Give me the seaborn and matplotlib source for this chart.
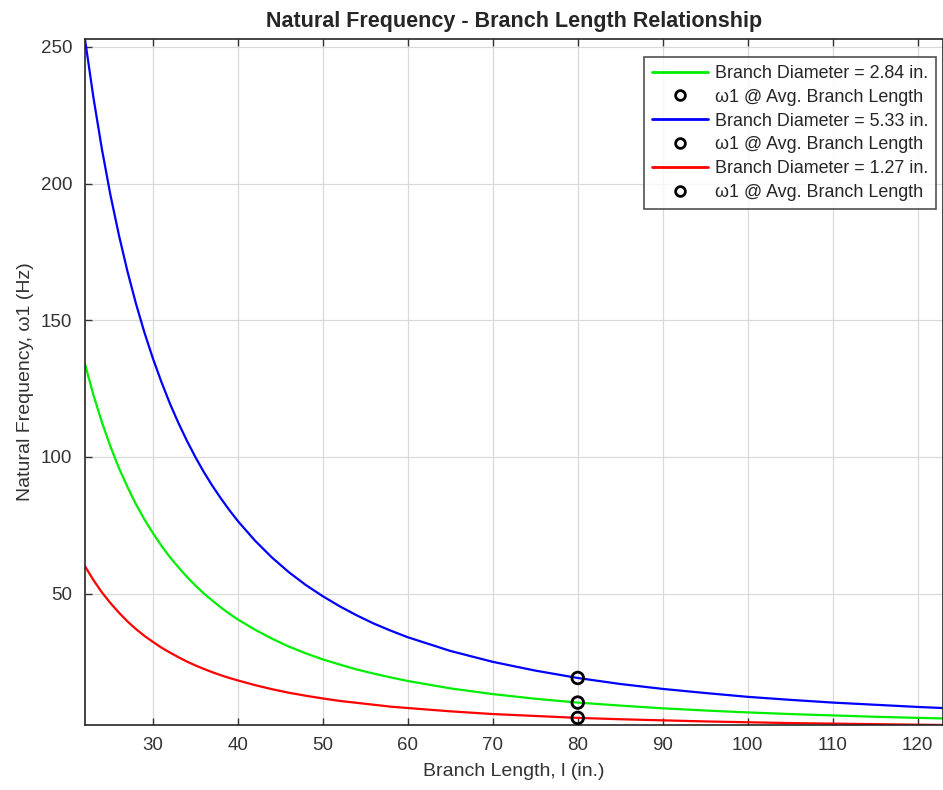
import matplotlib.pyplot as plt
import numpy as np
import pandas as pd
import seaborn as sns
from matplotlib.lines import Line2D

# values
length = [22, 23, 24, 25, 26, 27, 28, 29, 30, 31, 32, 33, 34, 35, 36, 37, 38, 39, 40,
          42, 44, 46, 48, 50, 52, 54, 56, 58, 60,
          65, 70, 75, 80, 85, 90, 95, 100, 105, 110, 115, 120, 123]
freq_284 = [134.0, 122.6, 112.6, 103.8, 95.9, 89.0, 82.7, 77.1, 72.1, 67.5, 63.3,
            59.6, 56.1, 52.9, 50.0, 47.4, 44.9, 42.6, 40.5,
            36.8, 33.5, 30.6, 28.1, 25.9, 24.0, 22.2, 20.7, 19.3, 18.0,
            15.3, 13.2, 11.5, 10.1, 9.0, 8.0, 7.2, 6.5, 5.9, 5.4, 4.9, 4.5, 4.3]
freq_533 = [252.9, 231.4, 212.5, 195.8, 181.1, 167.9, 156.1, 145.5, 136.0, 127.4,
            119.5, 112.4, 105.9, 99.9, 94.4, 89.4, 84.8, 80.5, 76.5,
            69.4, 63.2, 57.8, 53.1, 49.0, 45.3, 42.0, 39.0, 36.4, 34.0,
            29.0, 25.0, 21.8, 19.1, 16.9, 15.1, 13.6, 12.2, 11.1, 10.1, 9.3, 8.5, 8.1]
freq_127 = [60.0, 54.9, 50.4, 46.5, 43.0, 39.8, 37.0, 34.5, 32.3, 30.2, 28.4,
            26.7, 25.1, 23.7, 22.4, 21.2, 20.1, 19.1, 18.2,
            16.5, 15.0, 13.7, 12.6, 11.6, 10.7, 10.0, 9.3, 8.6, 8.1,
            6.9, 5.9, 5.2, 4.5, 4.0, 3.6, 3.2, 2.9, 2.6, 2.4, 2.2, 2.0, 1.9]
avg_length = 80
avg_freq = [10.1, 19.1, 4.5]
diameters = ["2.84", "5.33", "1.27"]
colors = ["#00ee00", "#0000ff", "#ff0000"]

sns.set_theme(style="white")
plt.rcParams.update({
    "font.family": ["Liberation Sans", "DejaVu Sans"],
    "axes.edgecolor": "#262626",
    "xtick.color": "#333333",
    "ytick.color": "#333333",
})

fig = plt.figure(figsize=(9.43, 7.9), dpi=100)
ax = fig.add_axes([0.0901, 0.0823, 0.91, 0.8683])

handles = []
labels = []
for series, d, c, f in zip([freq_284, freq_533, freq_127], diameters, colors, avg_freq):
    df = pd.DataFrame({"L": length, "w": series})
    sns.lineplot(data=df, x="L", y="w", color=c, linewidth=1.6, ax=ax)
    pt = pd.DataFrame({"L": [avg_length], "w": [f]})
    sns.scatterplot(data=pt, x="L", y="w", marker="o", s=70, facecolors="none",
                    edgecolor="black", linewidth=2, ax=ax, zorder=5)
    handles.append(Line2D([], [], color=c, linewidth=2))
    labels.append(f"Branch Diameter = {d} in.")
    handles.append(Line2D([], [], linestyle="", marker="o", markersize=7,
                          markerfacecolor="none", markeredgecolor="black", markeredgewidth=2))
    labels.append("ω1 @ Avg. Branch Length")

ax.set_xlim(min(length), max(length))
ax.set_ylim(min(freq_127), max(freq_533))
ax.set_xticks(np.arange(30, 121, 10))
ax.set_yticks([50, 100, 150, 200, 250])
ax.grid(True, color="#d9d9d9", linewidth=0.9)
ax.tick_params(direction="in", length=5, width=1, labelsize=13.5, top=True, bottom=True,
               left=True, right=False, pad=9)
for s in ax.spines.values():
    s.set_linewidth(1.2)

ax.set_xlabel("Branch Length, l (in.)", fontsize=14, color="#333333", labelpad=6)
ax.set_ylabel("Natural Frequency, ω1 (Hz)", fontsize=14, color="#333333", labelpad=5)
ax.set_title("Natural Frequency - Branch Length Relationship", fontsize=15.5,
             weight="bold", pad=9)

leg = ax.legend(handles, labels, loc="upper right", bbox_to_anchor=(0.992, 0.974),
                fontsize=12.9, frameon=True, fancybox=False, handlelength=3.1,
                borderpad=0.45, labelspacing=0.38, handletextpad=0.4, borderaxespad=0)
leg.get_frame().set_edgecolor("#262626")
leg.get_frame().set_linewidth(1.2)

fig.savefig("out.png", dpi=100, facecolor="white")
